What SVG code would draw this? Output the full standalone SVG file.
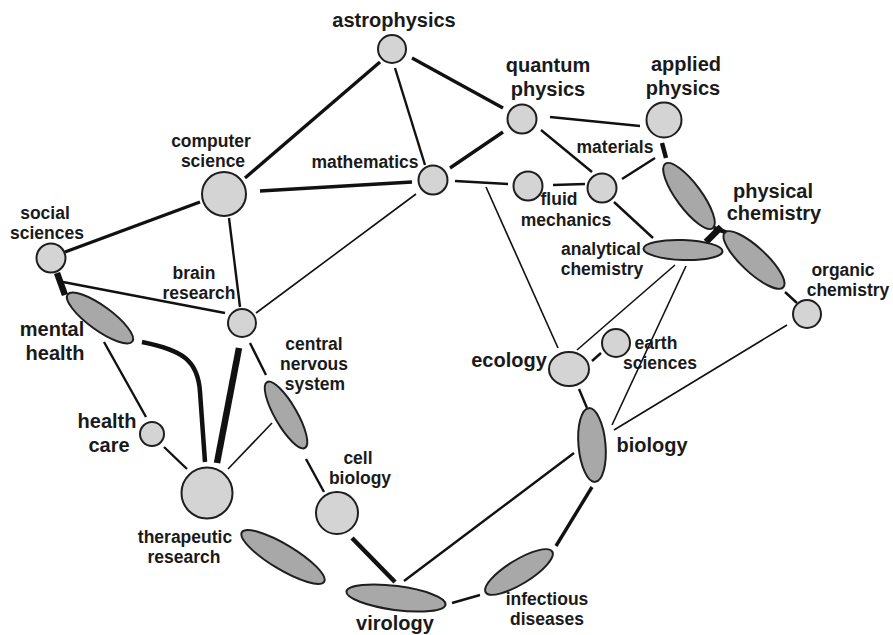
<svg xmlns="http://www.w3.org/2000/svg" width="893" height="635" viewBox="0 0 893 635">
<style>
.c{fill:#d4d4d4;stroke:#1e1e1e;stroke-width:2}
.e{fill:#a8a8a8;stroke:#1e1e1e;stroke-width:2}
text{font-family:"Liberation Sans",Arial,sans-serif;font-weight:bold;fill:#1a1a1a;text-anchor:middle;font-size:17.5px}
.L{font-size:20px}
#edges line,#edges path{stroke:#111;fill:none;stroke-linecap:butt}
.t1{stroke-width:1.6}
.t2{stroke-width:2.4}
.t3{stroke-width:3.4}
.t4{stroke-width:4.5}
.t5{stroke-width:6.5}
</style>
<rect width="893" height="635" fill="#fff"/>
<g id="edges">
<line class="t3" x1="380" y1="62" x2="245" y2="178"/>
<line class="t2" x1="395" y1="68" x2="425" y2="165"/>
<line class="t3" x1="412" y1="58" x2="503" y2="108"/>
<line class="t3" x1="260" y1="191" x2="412" y2="182"/>
<line class="t3" x1="200" y1="202" x2="65" y2="252"/>
<line class="t2" x1="229" y1="218" x2="240" y2="307"/>
<line class="t1" x1="416" y1="194" x2="256" y2="313"/>
<line class="t3" x1="450" y1="168" x2="503" y2="132"/>
<line class="t2" x1="455" y1="181" x2="508" y2="184"/>
<line class="t2" x1="553" y1="185" x2="585" y2="184"/>
<line class="t2" x1="550" y1="117" x2="640" y2="126"/>
<line class="t2" x1="541" y1="130" x2="592" y2="172"/>
<line class="t2" x1="622" y1="179" x2="655" y2="158"/>
<line class="t2" x1="614" y1="202" x2="653" y2="238"/>
<line class="t4" x1="662" y1="143" x2="666" y2="158"/>
<line class="t5" x1="706" y1="242" x2="721" y2="227"/>
<line class="t4" x1="714" y1="228" x2="728" y2="233"/>
<line class="t2" x1="785" y1="292" x2="797" y2="303"/>
<line class="t1" x1="486" y1="187" x2="558" y2="348"/>
<line class="t1" x1="675" y1="265" x2="577" y2="350"/>
<line class="t1" x1="686" y1="266" x2="612" y2="425"/>
<line class="t2" x1="592" y1="361" x2="601" y2="353"/>
<line class="t2" x1="579" y1="389" x2="587" y2="408"/>
<line class="t1" x1="787" y1="325" x2="614" y2="430"/>
<line class="t2" x1="574" y1="453" x2="404" y2="581"/>
<line class="t3" x1="592" y1="487" x2="556" y2="546"/>
<line class="t2" x1="480" y1="595" x2="452" y2="603"/>
<line class="t4" x1="352" y1="538" x2="395" y2="582"/>
<line class="t2" x1="306" y1="459" x2="324" y2="492"/>
<line class="t2" x1="250" y1="343" x2="266" y2="375"/>
<line class="t1" x1="272" y1="423" x2="228" y2="469"/>
<line class="t5" x1="239" y1="348" x2="217" y2="463"/>
<path class="t4" d="M142,342 C182,350 198,360 200,392 L205,462"/>
<line class="t2" x1="104" y1="342" x2="146" y2="417"/>
<line class="t2" x1="164" y1="447" x2="187" y2="469"/>
<line class="t5" x1="57" y1="273" x2="65" y2="295"/>
<line class="t2" x1="63" y1="282" x2="225" y2="313"/>
</g>
<g id="astrophysics"><circle class="c" cx="392" cy="49" r="14"/><text class="L" x="394" y="27">astrophysics</text></g>
<g id="quantum-physics"><circle class="c" cx="522" cy="119" r="14.5"/><text class="L" x="548" y="72">quantum</text><text class="L" x="548" y="96">physics</text></g>
<g id="applied-physics"><circle class="c" cx="664" cy="120" r="17.5"/><text class="L" x="686" y="71">applied</text><text class="L" x="683" y="95">physics</text></g>
<g id="computer-science"><circle class="c" cx="224" cy="194" r="22"/><text x="211" y="147">computer</text><text x="213" y="167">science</text></g>
<g id="mathematics"><circle class="c" cx="433" cy="180" r="14.5"/><text x="365" y="168">mathematics</text></g>
<g id="social-sciences"><circle class="c" cx="51" cy="258" r="14.5"/><text x="45" y="219">social</text><text x="47" y="239">sciences</text></g>
<g id="brain-research"><circle class="c" cx="242" cy="323" r="14"/><text x="194" y="279">brain</text><text x="199" y="299">research</text></g>
<g id="fluid-mechanics"><circle class="c" cx="528" cy="186" r="14.5"/><text x="559" y="205">fluid</text><text x="566" y="226">mechanics</text></g>
<g id="materials"><circle class="c" cx="602" cy="188" r="14.5"/><text x="615" y="153">materials</text></g>
<g id="physical-chemistry"><ellipse class="e" cx="689" cy="196" rx="40" ry="12.5" transform="rotate(53.6 689 196)"/><ellipse class="e" cx="754" cy="260" rx="40" ry="12.5" transform="rotate(43 754 260)"/><text class="L" x="773" y="198">physical</text><text class="L" x="774" y="220">chemistry</text></g>
<g id="analytical-chemistry"><ellipse class="e" cx="683" cy="250" rx="39.5" ry="10" transform="rotate(2 683 250)"/><text x="601" y="255">analytical</text><text x="602" y="275">chemistry</text></g>
<g id="organic-chemistry"><circle class="c" cx="807" cy="314" r="14"/><text x="843" y="276">organic</text><text x="848" y="296">chemistry</text></g>
<g id="ecology"><ellipse class="c" cx="569" cy="369" rx="20" ry="17"/><text class="L" x="509" y="367">ecology</text></g>
<g id="earth-sciences"><circle class="c" cx="616" cy="343" r="14"/><text x="656" y="349">earth</text><text x="660" y="369">sciences</text></g>
<g id="biology"><ellipse class="e" cx="592" cy="445" rx="13.5" ry="37" transform="rotate(-5 592 445)"/><text class="L" x="652" y="452">biology</text></g>
<g id="infectious-diseases"><ellipse class="e" cx="519" cy="572" rx="39" ry="12" transform="rotate(-31.5 519 572)"/><text x="547" y="605">infectious</text><text x="547" y="625">diseases</text></g>
<g id="virology"><ellipse class="e" cx="396" cy="598" rx="50" ry="12" transform="rotate(7.5 396 598)"/><text class="L" x="395" y="630">virology</text></g>
<g id="unlabeled"><ellipse class="e" cx="283" cy="557" rx="48" ry="12.5" transform="rotate(31 283 557)"/></g>
<g id="therapeutic-research"><circle class="c" cx="207" cy="493" r="25.5"/><text x="185" y="543">therapeutic</text><text x="184" y="563">research</text></g>
<g id="cell-biology"><circle class="c" cx="337" cy="513" r="21"/><text x="358" y="464">cell</text><text x="360" y="484">biology</text></g>
<g id="central-nervous-system"><ellipse class="e" cx="286" cy="415" rx="38" ry="11" transform="rotate(60 286 415)"/><text x="314" y="350">central</text><text x="314" y="370">nervous</text><text x="315" y="390">system</text></g>
<g id="health-care"><circle class="c" cx="152" cy="434" r="12"/><text class="L" x="107" y="428">health</text><text class="L" x="109" y="452">care</text></g>
<g id="mental-health"><ellipse class="e" cx="100" cy="318" rx="40" ry="12" transform="rotate(36 100 318)"/><text class="L" x="52" y="336">mental</text><text class="L" x="55" y="360">health</text></g>
</svg>
